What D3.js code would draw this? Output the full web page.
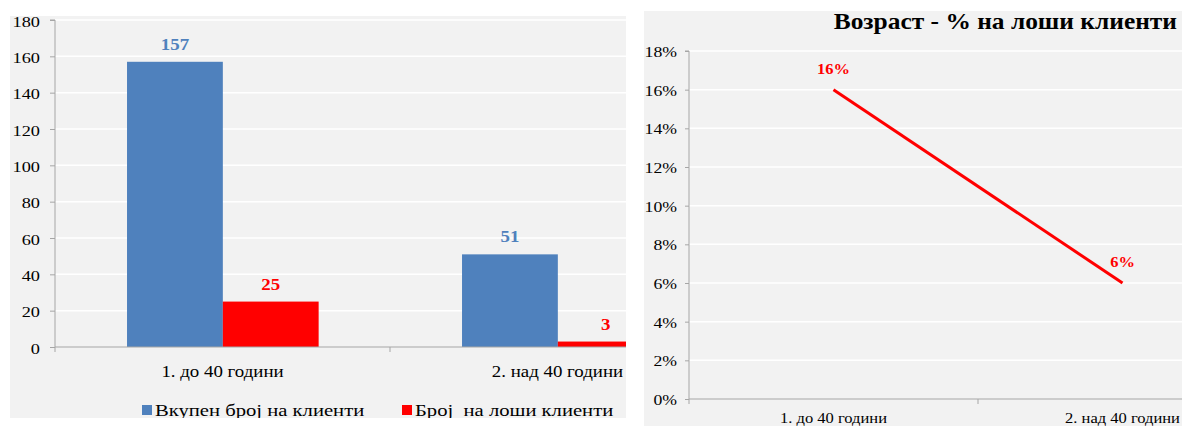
<!DOCTYPE html>
<html>
<head>
<meta charset="utf-8">
<script src="https://cdn.jsdelivr.net/npm/d3@7"></script>
<style>
  html, body { margin: 0; padding: 0; background: #ffffff; }
  svg { display: block; }
  text { font-family: "Liberation Serif", "Times New Roman", serif; white-space: pre; }
</style>
</head>
<body>
<svg id="chart" width="1188" height="426"></svg>
<script>
// Age groups and client counts
const categories = ["1. до 40 години", "2. над 40 години"];
const totalClients = [157, 51];
const badClients = [25, 3];
const badSharePct = [16, 6];
const seriesNames = ["Вкупен број на клиенти", "Број  на лоши клиенти"];
const countTicks = [0, 20, 40, 60, 80, 100, 120, 140, 160, 180];
const pctTicks = [0, 2, 4, 6, 8, 10, 12, 14, 16, 18];
const rightTitle = "Возраст - % на лоши клиенти";

const BLUE = "#4f81bd";
const RED = "#ff0000";
const PANEL = "#f2f2f2";
const AXIS = "#a6a6a6";
const SX = 1.18; // horizontal stretch of the lettering

const svg = d3.select("#chart");

// text helper: stretched horizontally around its anchor point
function label(g, x, y, str, opts) {
  const o = Object.assign({ size: 15, anchor: "middle", fill: "#000", weight: "normal", sx: SX }, opts || {});
  return g.append("text")
    .attr("transform", `translate(${x},${y}) scale(${o.sx},1)`)
    .attr("text-anchor", o.anchor)
    .attr("font-size", o.size)
    .attr("font-weight", o.weight)
    .attr("fill", o.fill)
    .text(str);
}

/* ---------- Left panel: grouped bars ---------- */
const L = { x0: 10, y0: 16, x1: 626, y1: 418, plotL: 55, plotR: 725, top: 20, bottom: 347 };
svg.append("rect").attr("x", L.x0).attr("y", L.y0)
  .attr("width", L.x1 - L.x0).attr("height", L.y1 - L.y0).attr("fill", PANEL);

svg.append("clipPath").attr("id", "clipLeft")
  .append("rect").attr("x", L.x0).attr("y", L.y0)
  .attr("width", L.x1 - L.x0).attr("height", L.y1 - L.y0);

const left = svg.append("g").attr("clip-path", "url(#clipLeft)");

const x0 = d3.scaleBand().domain(categories).range([L.plotL, L.plotR]).padding(0);
const x1 = d3.scaleBand().domain(seriesNames)
  .range([x0.bandwidth() * 0.215, x0.bandwidth() * 0.787]).padding(0);
const yL = d3.scaleLinear().domain([0, 180]).range([L.bottom, L.top]);

// gridlines
left.append("g").selectAll("line").data(countTicks.filter(d => d > 0)).join("line")
  .attr("x1", L.plotL).attr("x2", L.plotR)
  .attr("y1", d => yL(d)).attr("y2", d => yL(d))
  .attr("stroke", "#ffffff").attr("stroke-width", 1.5);

// bars
const barRows = categories.map((c, i) => [
  { cat: c, s: seriesNames[0], v: totalClients[i], color: BLUE },
  { cat: c, s: seriesNames[1], v: badClients[i], color: RED }
]).flat();

left.append("g").selectAll("rect").data(barRows).join("rect")
  .attr("x", d => x0(d.cat) + x1(d.s))
  .attr("width", x1.bandwidth())
  .attr("y", d => yL(d.v))
  .attr("height", d => yL(0) - yL(d.v))
  .attr("fill", d => d.color);

// value labels
barRows.forEach(d => {
  label(left, x0(d.cat) + x1(d.s) + x1.bandwidth() / 2, yL(d.v) - 12, String(d.v),
    { size: 16, weight: "bold", fill: d.color });
});

// axes
const yAxisL = d3.axisLeft(yL).tickValues(countTicks).tickSize(5).tickFormat("");
const gyL = left.append("g").attr("transform", `translate(${L.plotL},0)`).call(yAxisL);
gyL.select(".domain").attr("stroke", AXIS).attr("d", `M-5,${L.top}H0V${L.bottom}`);
gyL.selectAll(".tick line").attr("stroke", AXIS);
countTicks.forEach(t => label(left, 40, yL(t) + 6.5, String(t), { anchor: "end", size: 15.5 }));

const gxL = left.append("g").attr("transform", `translate(0,${L.bottom})`)
  .call(d3.axisBottom(x0).tickSize(0).tickFormat(""));
gxL.select(".domain").attr("stroke", AXIS).attr("d", `M${L.plotL},0H${L.plotR}`);
// category separators
left.append("g").selectAll("line").data([L.plotL, x0(categories[1])]).join("line")
  .attr("x1", d => d).attr("x2", d => d).attr("y1", L.bottom).attr("y2", L.bottom + 5)
  .attr("stroke", AXIS);
categories.forEach(c => label(left, x0(c) + x0.bandwidth() / 2, 377, c, { size: 16 }));

// legend
const legend = left.append("g");
const legendItems = [
  { name: seriesNames[0], color: BLUE, x: 142 },
  { name: seriesNames[1], color: RED, x: 402 }
];
legendItems.forEach(it => {
  legend.append("rect").attr("x", it.x).attr("y", 405).attr("width", 10).attr("height", 10).attr("fill", it.color);
  label(legend, it.x + 13, 416, it.name, { anchor: "start", size: 17.5 });
});

/* ---------- Right panel: share of bad clients ---------- */
const R = { x0: 644, y0: 11, x1: 1182, y1: 426, plotL: 689, plotR: 1267, top: 51, bottom: 399 };
svg.append("rect").attr("x", R.x0).attr("y", R.y0)
  .attr("width", R.x1 - R.x0).attr("height", R.y1 - R.y0).attr("fill", PANEL);
svg.append("clipPath").attr("id", "clipRight")
  .append("rect").attr("x", R.x0).attr("y", R.y0)
  .attr("width", R.x1 - R.x0).attr("height", R.y1 - R.y0);
const right = svg.append("g").attr("clip-path", "url(#clipRight)");

const xR = d3.scaleBand().domain(categories).range([R.plotL, R.plotR]).padding(0);
const yR = d3.scaleLinear().domain([0, 18]).range([R.bottom, R.top]);
const cx = c => xR(c) + xR.bandwidth() / 2;

right.append("g").selectAll("line").data(pctTicks.filter(d => d > 0)).join("line")
  .attr("x1", R.plotL).attr("x2", R.plotR)
  .attr("y1", d => yR(d)).attr("y2", d => yR(d))
  .attr("stroke", "#ffffff").attr("stroke-width", 1.5);

const gyR = right.append("g").attr("transform", `translate(${R.plotL},0)`)
  .call(d3.axisLeft(yR).tickValues(pctTicks).tickSize(4).tickFormat(""));
gyR.select(".domain").attr("stroke", AXIS).attr("d", `M-4,${R.top}H0V${R.bottom}`);
gyR.selectAll(".tick line").attr("stroke", AXIS);
pctTicks.forEach(t => label(right, 677, yR(t) + 6, t + "%", { anchor: "end", size: 15 }));

const gxR = right.append("g").attr("transform", `translate(0,${R.bottom})`)
  .call(d3.axisBottom(xR).tickSize(0).tickFormat(""));
gxR.select(".domain").attr("stroke", AXIS).attr("d", `M${R.plotL},0H${R.plotR}`);
right.append("g").selectAll("line").data([R.plotL, xR(categories[1])]).join("line")
  .attr("x1", d => d).attr("x2", d => d).attr("y1", R.bottom).attr("y2", R.bottom + 5)
  .attr("stroke", AXIS);
categories.forEach(c => label(right, cx(c), 423, c, { size: 14 }));

const pts = categories.map((c, i) => ({ c, v: badSharePct[i] }));
right.append("path").datum(pts)
  .attr("d", d3.line().x(d => cx(d.c)).y(d => yR(d.v)))
  .attr("fill", "none").attr("stroke", RED).attr("stroke-width", 3);
pts.forEach(p => label(right, cx(p.c), yR(p.v) - 16, p.v + "%", { size: 14, weight: "bold", fill: RED }));

label(right, 1177, 29, rightTitle, { anchor: "end", size: 24, weight: "bold", sx: 1.06 });
</script>
</body>
</html>
